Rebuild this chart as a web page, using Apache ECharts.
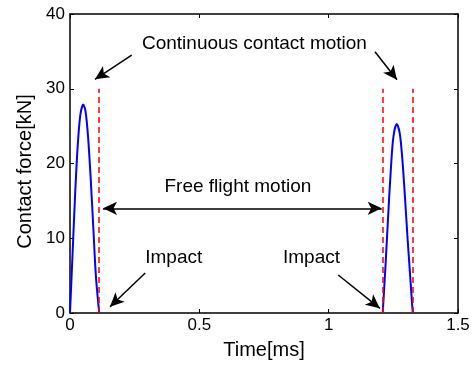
<!DOCTYPE html>
<html>
<head>
<meta charset="utf-8">
<script src="https://cdn.jsdelivr.net/npm/echarts@6/dist/echarts.min.js"></script>
<style>html,body{margin:0;padding:0;background:#fff}#c{width:474px;height:366px}</style>
</head>
<body>
<div id="c"></div>
<script>
// Pulse 1 (time ms, force kN)
var pulse1Time = [0, 0.01, 0.02, 0.03, 0.04, 0.051, 0.06, 0.07, 0.08, 0.09, 0.10, 0.113];
var pulse1Force = [0, 8, 16, 22.5, 26.5, 27.9, 27, 23.5, 18, 11.5, 5, 0];
// Pulse 2
var pulse2Time = [1.209, 1.22, 1.23, 1.24, 1.25, 1.263, 1.275, 1.285, 1.295, 1.305, 1.315, 1.325];
var pulse2Force = [0, 6.5, 13, 19, 23.5, 25.3, 24, 20.5, 15.5, 10, 5, 0];
// Red dashed boundary lines
var boundaryTimes = [0.113, 1.209, 1.325];
var boundaryTop = 30;
// Axis ticks
var xTicks = [0, 0.5, 1, 1.5];
var yTicks = [0, 10, 20, 30, 40];
// Annotation texts
var labelX = [0.715, 0.651, 0.403, 0.9355];
var labelY = [36.0, 16.86, 7.36, 7.36];
var labelText = ['Continuous contact motion', 'Free flight motion', 'Impact', 'Impact'];
// Arrows: tail -> head
var arrowTail = [[0.2385, 34.5], [1.179, 34.96], [0.2908, 5.35], [1.037, 5.08]];
var arrowHead = [[0.0966, 31.26], [1.264, 31.2], [0.1546, 0.84], [1.198, 0.63]];
// Double arrow (free flight)
var doubleArrow = [[0.1276, 14.0], [1.205, 14.0]];

function pairs(xs, ys) { return xs.map(function (x, i) { return [x, ys[i]]; }); }

var font = '"Liberation Sans", Arial, sans-serif';
var chart = echarts.init(document.getElementById('c'), null, {renderer: 'canvas'});

var arrowData = arrowTail.map(function (t, i) {
  return [{coord: t, symbol: 'none'}, {coord: arrowHead[i], symbol: 'arrow', symbolSize: [10, 14]}];
});
arrowData.push([{coord: doubleArrow[0], symbol: 'arrow', symbolSize: [10, 14]}, {coord: doubleArrow[1], symbol: 'arrow', symbolSize: [10, 14]}]);

var boundaryData = boundaryTimes.map(function (t) {
  return [{coord: [t, 0]}, {coord: [t, boundaryTop]}];
});

var axisCommon = {
  axisLine: {show: true, onZero: false, lineStyle: {color: '#000', width: 1.5}},
  axisTick: {show: true, inside: true, length: 4, lineStyle: {color: '#000', width: 1}},
  splitLine: {show: false}
};

chart.setOption({
  animation: false,
  backgroundColor: '#fff',
  grid: {left: 70, right: 16, top: 14, bottom: 53},
  xAxis: [
    Object.assign({
      type: 'value', min: xTicks[0], max: xTicks[xTicks.length - 1], interval: 0.5, position: 'bottom',
      name: 'Time[ms]', nameLocation: 'middle', nameGap: 27,
      nameTextStyle: {fontFamily: font, fontSize: 20, color: '#000'},
      axisLabel: {show: true, margin: 4, fontFamily: font, fontSize: 17, color: '#000'}
    }, axisCommon),
    Object.assign({
      type: 'value', min: xTicks[0], max: xTicks[xTicks.length - 1], interval: 0.5, position: 'top',
      axisLabel: {show: false}
    }, axisCommon)
  ],
  yAxis: [
    Object.assign({
      type: 'value', min: yTicks[0], max: yTicks[yTicks.length - 1], interval: 10, position: 'left',
      name: 'Contact force[kN]', nameLocation: 'middle', nameGap: 35,
      nameTextStyle: {fontFamily: font, fontSize: 20, color: '#000', padding: [0, 16, 0, 0]},
      axisLabel: {show: true, margin: 5, fontFamily: font, fontSize: 17, color: '#000'}
    }, axisCommon),
    Object.assign({
      type: 'value', min: yTicks[0], max: yTicks[yTicks.length - 1], interval: 10, position: 'right',
      axisLabel: {show: false}
    }, axisCommon)
  ],
  series: [
    {
      type: 'line', data: pairs(pulse1Time, pulse1Force), smooth: 0.3, symbol: 'none',
      lineStyle: {color: '#0000ff', width: 2}, z: 3
    },
    {
      type: 'line', data: pairs(pulse2Time, pulse2Force), smooth: 0.3, symbol: 'none',
      lineStyle: {color: '#0000ff', width: 2}, z: 3
    },
    {
      type: 'line', data: [], symbol: 'none',
      markLine: {
        silent: true, symbol: 'none', animation: false,
        label: {show: false},
        lineStyle: {color: '#ff0000', width: 1.5, type: [6, 4]},
        data: boundaryData
      }, z: 4
    },
    {
      type: 'line', data: [], symbol: 'none',
      markLine: {
        silent: true, animation: false,
        label: {show: false},
        lineStyle: {color: '#000', width: 1.5, type: 'solid'},
        data: arrowData
      }, z: 5
    },
    {
      type: 'scatter', symbolSize: 1, itemStyle: {color: 'rgba(0,0,0,0)'}, silent: true,
      data: labelX.map(function (x, i) { return {value: [x, labelY[i]], name: labelText[i]}; }),
      label: {
        show: true, position: [0, 0], align: 'center', verticalAlign: 'middle', formatter: '{b}',
        fontFamily: font, fontSize: 19, color: '#000', opacity: 1, textBorderWidth: 0
      }, z: 6
    }
  ]
});
</script>
</body>
</html>
